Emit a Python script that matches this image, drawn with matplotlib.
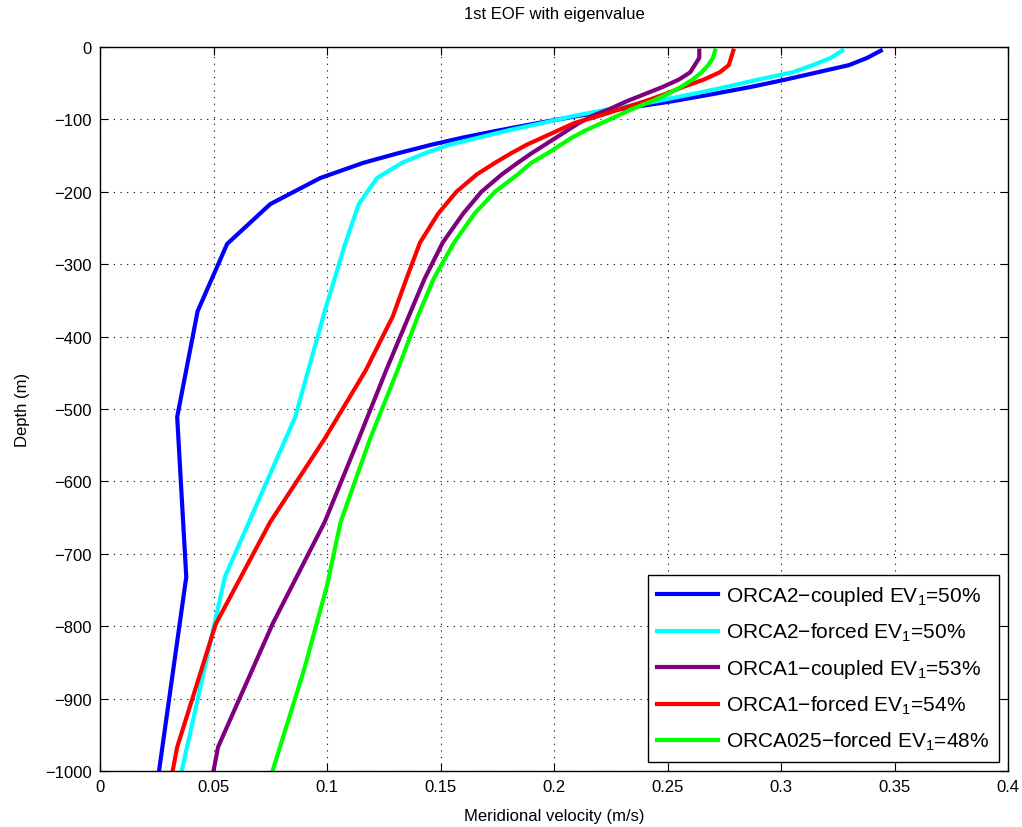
import matplotlib
matplotlib.use('Agg')
import matplotlib.pyplot as plt
import numpy as np

plt.rcParams['font.family'] = ['Liberation Sans', 'DejaVu Sans']
plt.rcParams['mathtext.fontset'] = 'custom'
plt.rcParams['mathtext.rm'] = 'Liberation Sans'
plt.rcParams['mathtext.default'] = 'regular'

# Depth levels (m) and 1st EOF profiles (m/s)
depth_orca2 = [-5, -15, -25, -35, -45, -55, -65, -75, -85, -95, -105, -115, -125,
               -135, -147, -160, -181, -217, -272, -365, -511, -732, -1000]
orca2_coupled = [0.344, 0.338, 0.330, 0.316, 0.302, 0.287, 0.270, 0.252, 0.231, 0.211,
                 0.193, 0.176, 0.160, 0.146, 0.131, 0.116, 0.097, 0.075, 0.056, 0.043,
                 0.034, 0.038, 0.026]
orca2_forced = [0.327, 0.322, 0.314, 0.305, 0.290, 0.276, 0.261, 0.245, 0.226, 0.209,
                0.195, 0.180, 0.167, 0.154, 0.143, 0.133, 0.122, 0.114, 0.108, 0.099,
                0.086, 0.055, 0.036]

depth_orca1 = [-5, -15, -25, -35, -45, -55, -65, -75, -85, -95, -105, -115, -125, -135,
               -147, -160, -176, -200, -230, -270, -320, -372, -447, -541, -656, -797,
               -967, -1000]
orca1_coupled = [0.264, 0.264, 0.262, 0.260, 0.255, 0.248, 0.240, 0.232, 0.225, 0.217,
                 0.211, 0.206, 0.201, 0.196, 0.190, 0.184, 0.177, 0.168, 0.160, 0.151,
                 0.143, 0.136, 0.126, 0.114, 0.099, 0.076, 0.052, 0.050]
orca1_forced = [0.279, 0.278, 0.277, 0.273, 0.266, 0.257, 0.249, 0.240, 0.230, 0.220,
                0.209, 0.202, 0.195, 0.188, 0.181, 0.174, 0.166, 0.157, 0.149, 0.141,
                0.135, 0.129, 0.117, 0.099, 0.075, 0.051, 0.034, 0.032]

depth_orca025 = [-5, -15, -25, -35, -45, -55, -65, -75, -85, -95, -105, -115, -125, -135,
                 -147, -160, -176, -200, -230, -270, -320, -372, -447, -541, -656, -744,
                 -859, -1000]
orca025_forced = [0.271, 0.270, 0.268, 0.265, 0.261, 0.256, 0.250, 0.243, 0.235, 0.228,
                  0.221, 0.214, 0.208, 0.203, 0.197, 0.190, 0.184, 0.174, 0.165, 0.156,
                  0.147, 0.140, 0.131, 0.119, 0.106, 0.100, 0.090, 0.076]

labels = ['ORCA2\u2212coupled EV$_1$=50%', 'ORCA2\u2212forced EV$_1$=50%',
          'ORCA1\u2212coupled EV$_1$=53%', 'ORCA1\u2212forced EV$_1$=54%',
          'ORCA025\u2212forced EV$_1$=48%']
colors = ['#0000ff', '#00ffff', '#7f007f', '#ff0000', '#00ff00']

series = [(orca2_coupled, depth_orca2), (orca2_forced, depth_orca2),
          (orca1_coupled, depth_orca1), (orca1_forced, depth_orca1),
          (orca025_forced, depth_orca025)]

fig = plt.figure(figsize=(10.22, 8.28), dpi=100)
ax = fig.add_axes([100 / 1022, 1 - 772 / 828, 908 / 1022, 724 / 828])

for (vals, dep), lab, col in zip(series, labels, colors):
    ax.plot(vals, dep, color=col, linewidth=3, label=lab)

ax.set_xlim(0, 0.4)
ax.set_ylim(-1000, 0)
ax.set_xticks(np.arange(0, 0.401, 0.05))
ax.set_xticklabels(['0', '0.05', '0.1', '0.15', '0.2', '0.25', '0.3', '0.35', '0.4'])
ax.set_yticks(np.arange(-1000, 1, 100))
ax.tick_params(direction='in', top=True, right=True, labelsize=12, length=6, pad=6)
ax.grid(True, linestyle=(0, (1, 5)), color='black', linewidth=0.8)
for sp in ax.spines.values():
    sp.set_linewidth(1.0)

ax.set_title('1st EOF with eigenvalue', fontsize=12, pad=21)
ax.set_xlabel('Meridional velocity (m/s)', fontsize=12, labelpad=10)
ax.set_ylabel('Depth (m)', fontsize=12, labelpad=11)

leg = ax.legend(loc='lower right', fontsize=15, handlelength=2.9, frameon=True,
                fancybox=False, edgecolor='black', framealpha=1,
                borderaxespad=0.45, labelspacing=0.66, borderpad=0.45,
                handletextpad=0.4)
leg.get_frame().set_linewidth(1.0)

fig.savefig('out.png', dpi=100, facecolor='white')
